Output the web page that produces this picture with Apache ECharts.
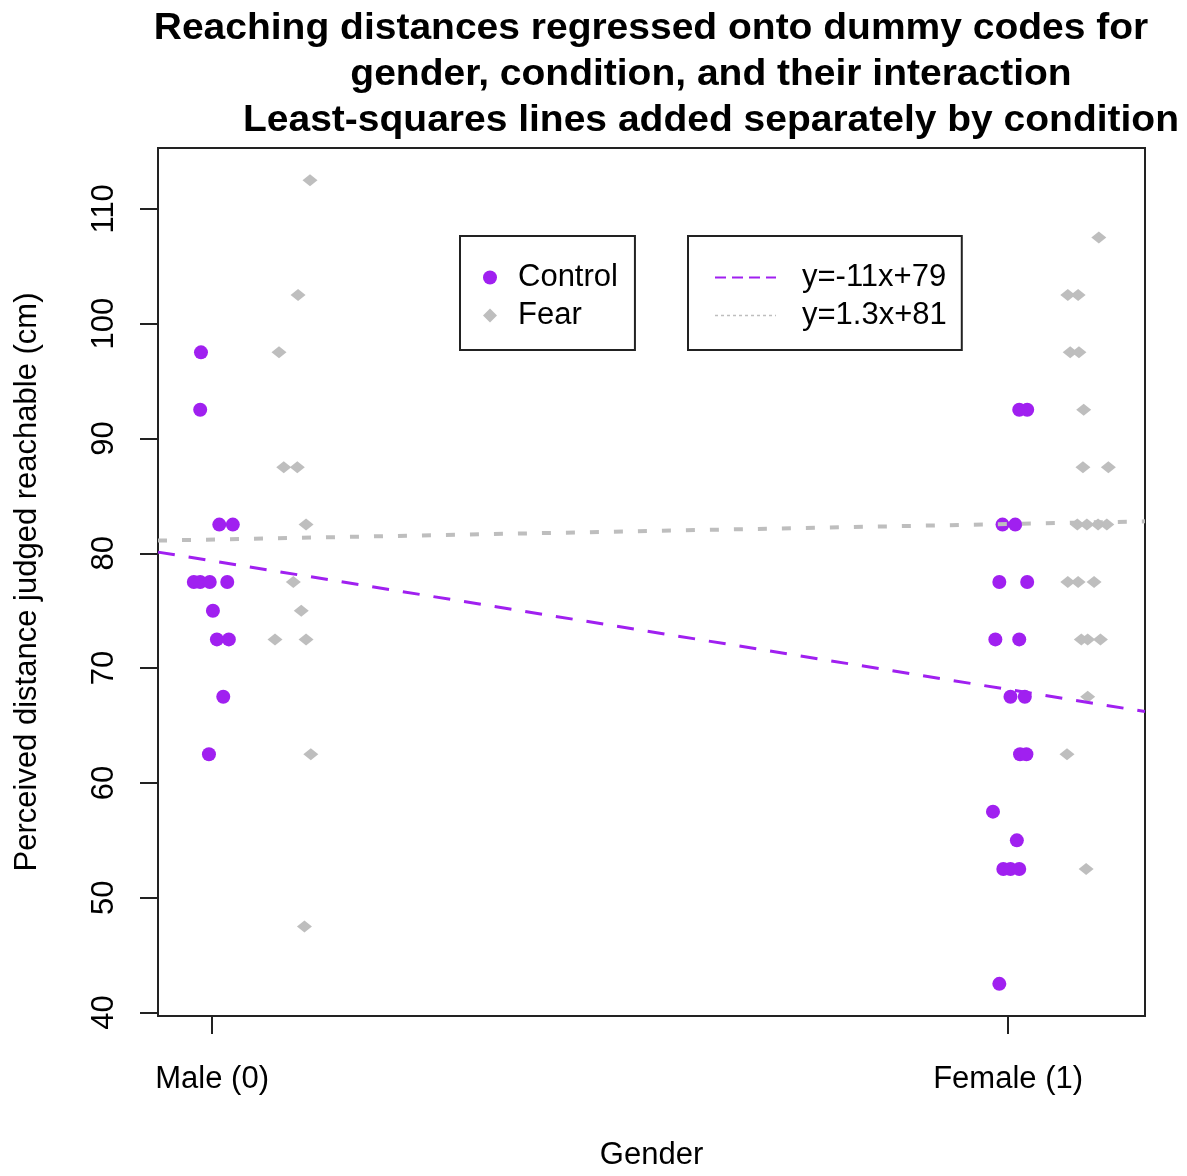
<!DOCTYPE html>
<html>
<head>
<meta charset="utf-8">
<script src="https://cdn.jsdelivr.net/npm/echarts@6/dist/echarts.min.js"></script>
<style>
  html, body { margin: 0; padding: 0; background: #fff; }
  #chart { width: 1187px; height: 1176px; }
</style>
</head>
<body>
<div id="chart"></div>
<script>
// gender dummy code (0 = male, 1 = female) + small horizontal jitter
var controlX = [-0.014, -0.015, 0.009, 0.026, -0.023, -0.015, -0.003, 0.019, 0.001, 0.006, 0.021, 0.014, -0.004,
  1.014, 1.024, 0.993, 1.009, 0.989, 1.024, 0.984, 1.014, 1.003, 1.021, 1.015, 1.023, 0.981, 1.011, 0.994, 1.003, 1.014, 0.989];
var controlY = [97.5, 92.5, 82.5, 82.5, 77.5, 77.5, 77.5, 77.5, 75, 72.5, 72.5, 67.5, 62.5,
  92.5, 92.5, 82.5, 82.5, 77.5, 77.5, 72.5, 72.5, 67.5, 67.5, 62.5, 62.5, 57.5, 55, 52.5, 52.5, 52.5, 42.5];

var fearX = [0.123, 0.108, 0.084, 0.090, 0.107, 0.118, 0.102, 0.112, 0.079, 0.118, 0.124, 0.116,
  1.114, 1.075, 1.088, 1.078, 1.089, 1.095, 1.094, 1.126, 1.087, 1.099, 1.113, 1.124,
  1.075, 1.088, 1.108, 1.092, 1.100, 1.116, 1.100, 1.074, 1.098];
var fearY = [112.5, 102.5, 97.5, 87.5, 87.5, 82.5, 77.5, 75, 72.5, 72.5, 62.5, 47.5,
  107.5, 102.5, 102.5, 97.5, 97.5, 92.5, 87.5, 87.5, 82.5, 82.5, 82.5, 82.5,
  77.5, 77.5, 77.5, 72.5, 72.5, 72.5, 67.5, 62.5, 52.5];

// least-squares lines (slope, intercept) by condition
var lineNames = ['y=-11x+79', 'y=1.3x+81'];
var lineSlope = [-11.2, 1.35];
var lineIntercept = [79.34, 81.2];

var xTickValues = [0, 1];
var xTickLabels = ['Male (0)', 'Female (1)'];
var yTickValues = [40, 50, 60, 70, 80, 90, 100, 110];

var titleLines = [
  'Reaching distances regressed onto dummy codes for',
  'gender, condition, and their interaction',
  'Least-squares lines added separately by condition'
];

var xMin = -0.068, xMax = 1.172;
var yMin = 39.7, yMax = 115.3;

var PURPLE = '#A020F0';
var GRAY = '#BEBEBE';
var FONT = '"Liberation Sans", Arial, sans-serif';

function pairs(xs, ys) {
  return xs.map(function (x, i) { return [x, ys[i]]; });
}
function lineData(k) {
  return [xMin, xMax].map(function (x) {
    return [x, lineSlope[k] * x + lineIntercept[k]];
  });
}
// R's bold title renders a bit wider than Liberation Sans Bold at the same height
function titleText(i, cx, cy) {
  return {
    type: 'text', x: cx, y: cy, scaleX: 1.083,
    style: { text: titleLines[i], textAlign: 'center', textVerticalAlign: 'middle', font: 'bold 36px ' + FONT, fill: '#000' }
  };
}

var chart = echarts.init(document.getElementById('chart'));

var option = {
  backgroundColor: '#fff',
  animation: false,
  textStyle: { fontFamily: FONT },
  graphic: [
    titleText(0, 651, 29),
    titleText(1, 711, 75),
    titleText(2, 711, 121)
  ],
  legend: [
    {
      data: ['Control', 'Fear'],
      orient: 'vertical',
      left: 460,
      top: 236,
      itemWidth: 14,
      itemHeight: 14,
      itemGap: 7,
      padding: [26, 17, 19, 23],
      borderColor: '#222',
      borderWidth: 2,
      selectedMode: false,
      textStyle: { fontSize: 31, lineHeight: 31, color: '#000', fontFamily: FONT, padding: [0, 0, 0, 16] }
    },
    {
      data: [
        { name: lineNames[0], itemStyle: { opacity: 0 }, lineStyle: { width: 2, type: [11, 6] } },
        { name: lineNames[1], itemStyle: { opacity: 0 }, lineStyle: { width: 1.5, type: [3, 3] } }
      ],
      orient: 'vertical',
      left: 688,
      top: 236,
      itemWidth: 61,
      itemHeight: 14,
      itemGap: 7,
      padding: [26, 15, 19, 26],
      borderColor: '#222',
      borderWidth: 2,
      selectedMode: false,
      textStyle: { fontSize: 31, lineHeight: 31, color: '#000', fontFamily: FONT, padding: [0, 0, 0, 21] }
    }
  ],
  grid: {
    left: 158,
    right: 42,
    top: 148,
    bottom: 156,
    show: true,
    borderColor: '#222',
    borderWidth: 2
  },
  xAxis: {
    type: 'value',
    min: xMin,
    max: xMax,
    name: 'Gender',
    nameLocation: 'middle',
    nameGap: 124,
    nameTextStyle: { fontSize: 31, color: '#000', fontFamily: FONT },
    axisLine: { show: false, onZero: false },
    splitLine: { show: false },
    axisTick: { show: true, customValues: xTickValues, length: 18, lineStyle: { color: '#222', width: 2 } },
    axisLabel: {
      customValues: xTickValues,
      fontSize: 31,
      color: '#000',
      margin: 48,
      formatter: function (v) { return xTickLabels[xTickValues.indexOf(v)]; }
    }
  },
  yAxis: {
    type: 'value',
    min: yMin,
    max: yMax,
    name: 'Perceived distance judged reachable (cm)',
    nameLocation: 'middle',
    nameRotate: 90,
    nameGap: 115,
    nameTextStyle: { fontSize: 31, color: '#000', fontFamily: FONT },
    axisLine: { show: false, onZero: false },
    splitLine: { show: false },
    axisTick: { show: true, customValues: yTickValues, length: 18, lineStyle: { color: '#222', width: 2 } },
    axisLabel: {
      customValues: yTickValues,
      rotate: 90,
      fontSize: 31,
      color: '#000',
      margin: 38
    }
  },
  series: [
    {
      name: 'Control',
      type: 'scatter',
      symbol: 'circle',
      symbolSize: 14,
      itemStyle: { color: PURPLE, opacity: 1 },
      data: pairs(controlX, controlY)
    },
    {
      name: 'Fear',
      type: 'scatter',
      symbol: 'diamond',
      symbolSize: [15, 12],
      itemStyle: { color: GRAY, opacity: 1 },
      data: pairs(fearX, fearY)
    },
    {
      name: lineNames[0],
      type: 'line',
      symbol: 'none',
      itemStyle: { color: PURPLE },
      lineStyle: { color: PURPLE, width: 3, type: [17, 14] },
      data: lineData(0)
    },
    {
      name: lineNames[1],
      type: 'line',
      symbol: 'none',
      itemStyle: { color: GRAY },
      lineStyle: { color: GRAY, width: 4, type: [9, 15] },
      data: lineData(1)
    }
  ]
};

chart.setOption(option);
</script>
</body>
</html>
